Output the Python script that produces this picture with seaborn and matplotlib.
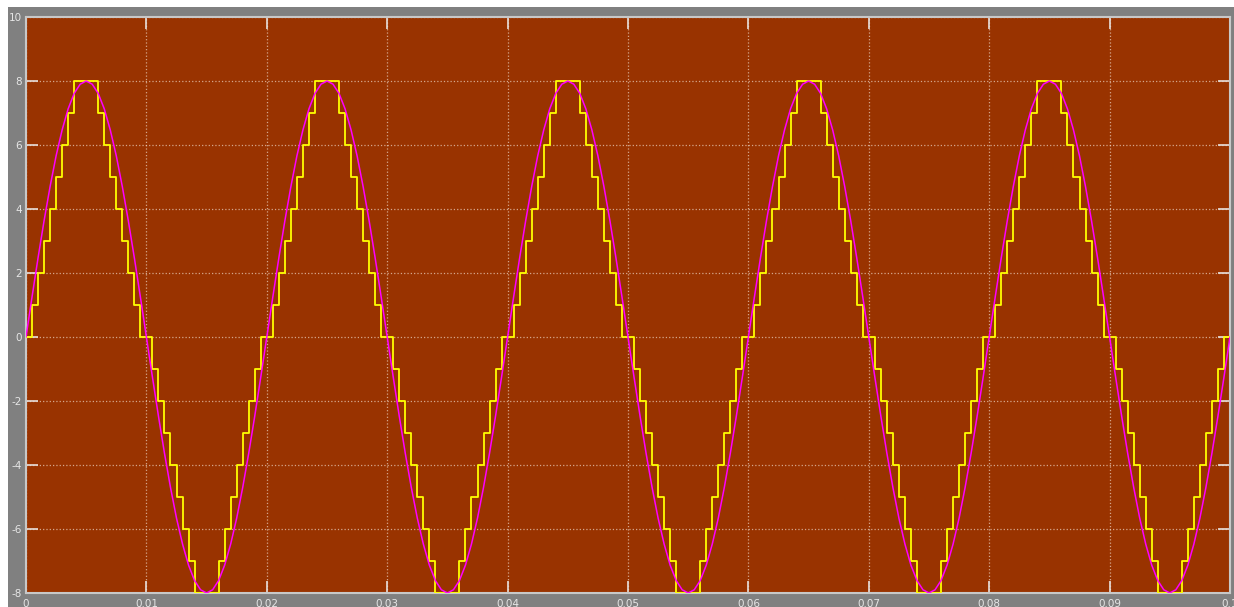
import numpy as np
import matplotlib
matplotlib.use("Agg")
import matplotlib.pyplot as plt
from matplotlib.patches import Rectangle
import seaborn as sns

# --- DATA ---
SAMPLE_T = 0.0005          # hold time of each sample, s
N_PERIODS = 5

# quantized signal, one 20 ms period, one value per 0.5 ms sample
stair_period = [0, 1, 2, 3, 4, 5, 6, 7, 8, 8, 8, 8, 7, 6, 5, 4, 3, 2, 1, 0,
                0, -1, -2, -3, -4, -5, -6, -7, -8, -8, -8, -8, -7, -6, -5, -4, -3, -2, -1, 0]

# reference sine, same sample points
sine_period = [0.00, 1.25, 2.47, 3.63, 4.70, 5.66, 6.47, 7.13, 7.61, 7.90,
               8.00, 7.90, 7.61, 7.13, 6.47, 5.66, 4.70, 3.63, 2.47, 1.25,
               0.00, -1.25, -2.47, -3.63, -4.70, -5.66, -6.47, -7.13, -7.61, -7.90,
               -8.00, -7.90, -7.61, -7.13, -6.47, -5.66, -4.70, -3.63, -2.47, -1.25]

x_ticks = [0, 0.01, 0.02, 0.03, 0.04, 0.05, 0.06, 0.07, 0.08, 0.09, 0.1]
x_labels = ["0", "0.01", "0.02", "0.03", "0.04", "0.05", "0.06", "0.07", "0.08", "0.09", "0.1"]
y_ticks = [-8, -6, -4, -2, 0, 2, 4, 6, 8, 10]
y_labels = ["-8", "-6", "-4", "-2", "0", "2", "4", "6", "8", "10"]

# the five periods on screen are identical -> repeat the read period
stairs = np.append(np.tile(stair_period, N_PERIODS), 0)
sine = np.append(np.tile(sine_period, N_PERIODS), 0.0)
t = np.arange(len(stairs)) * SAMPLE_T

# --- STYLE ---
sns.set_style("ticks")
plt.rcParams['font.family'] = ['DejaVu Sans']

W, H = 1234, 607
fig = plt.figure(figsize=(W / 100, H / 100), dpi=100, facecolor="white")
# grey scope frame, kept behind the axes
fig.patches.append(Rectangle((8 / W, 0), 1, (H - 7) / H, transform=fig.transFigure,
                             facecolor="#808080", edgecolor="none", zorder=-10))

ax = fig.add_axes([26 / W, (H - 593) / H, (1230 - 26) / W, (593 - 17) / H])
ax.set_zorder(5)
ax.set_facecolor("#993300")

sns.lineplot(x=t, y=stairs, ax=ax, color="#ffff00", lw=1.3, drawstyle="steps-post",
             estimator=None, sort=False, zorder=3)
sns.lineplot(x=t, y=sine, ax=ax, color="#ff00ff", lw=1.1,
             estimator=None, sort=False, zorder=4)

ax.set_xlim(0, 0.1)
ax.set_ylim(-8, 10)
ax.set_xticks(x_ticks)
ax.set_xticklabels(x_labels)
ax.set_yticks(y_ticks)
ax.set_yticklabels(y_labels)
ax.set_xlabel("")
ax.set_ylabel("")

ax.grid(True, color="#f0d8c8", linestyle=":", linewidth=0.9, alpha=0.7, zorder=1)
ax.tick_params(direction="in", length=8.6, width=1.2, color="#e8e0dc",
               top=True, right=True, labelsize=7.5, labelcolor="#e6e6e6", pad=3)
ax.tick_params(axis="x", pad=4)
for sp in ax.spines.values():
    sp.set_color("#c8c8c8")
    sp.set_linewidth(1.5)

fig.savefig("out.png", dpi=100, facecolor="white")
